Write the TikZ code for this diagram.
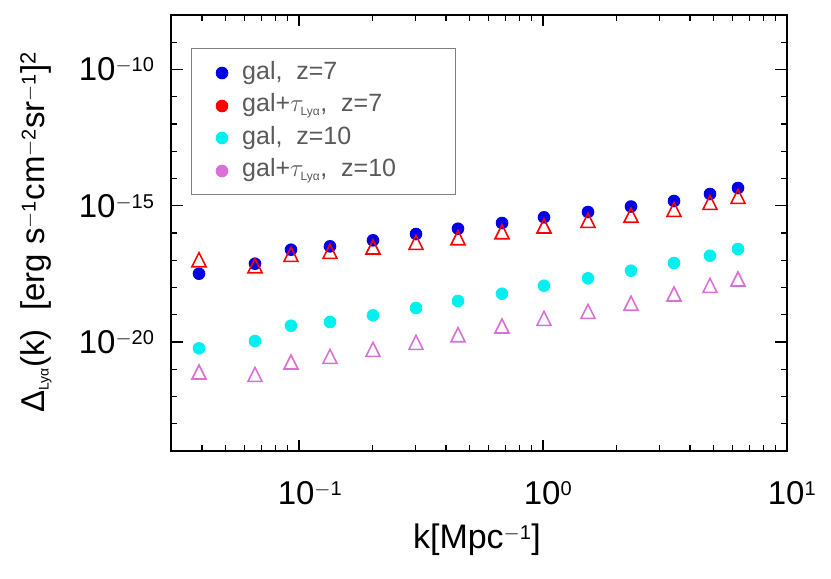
\documentclass[tikz,border=0pt]{standalone}
\usepackage{amsmath}
\usepackage{fontspec}
\setmainfont{Liberation Sans}
\usepackage{tikz}
\definecolor{galblue}{RGB}{0,0,230}
\definecolor{galred}{RGB}{255,0,0}
\definecolor{galcyan}{RGB}{0,240,240}
\definecolor{galviolet}{RGB}{218,112,214}
\definecolor{legendgray}{RGB}{90,90,90}

\tikzset{
    dot/.style={fill=#1, draw=none},
    tri/.style={draw=#1, line width=1.6pt, line join=miter},
    axisline/.style={line width=1.4pt, black},
    tickline/.style={line width=1.2pt, black}
}

\begin{document}
\begin{tikzpicture}[x=1pt, y=-1pt]
    \useasboundingbox (0,0) rectangle (831,579);
    % frame
    \draw[axisline] (171,15) rectangle (787,451);
    % x ticks
    \foreach \e in {-2,-1,0} {
        \foreach \m in {2,...,9} {
            \pgfmathsetmacro{\xx}{543+244*(log10(\m)+\e)}
            \pgfmathparse{\xx>172 ? 1 : 0}
            \ifnum\pgfmathresult=1
                \draw[tickline] (\xx,451) -- ++(0,-6);
                \draw[tickline] (\xx,15) -- ++(0,6);
            \fi
        }
    }
    \foreach \e in {-1,0} {
        \pgfmathsetmacro{\xx}{543+244*\e}
        \draw[tickline] (\xx,451) -- ++(0,-11);
        \draw[tickline] (\xx,15) -- ++(0,11);
    }
    % y ticks
    \foreach \d in {-23,...,-9} {
        \pgfmathsetmacro{\yy}{15+27.25*(-8-\d)}
        \draw[tickline] (171,\yy) -- ++(6,0);
        \draw[tickline] (787,\yy) -- ++(-6,0);
    }
    \foreach \d in {-10,-15,-20} {
        \pgfmathsetmacro{\yy}{15+27.25*(-8-\d)}
        \draw[tickline] (171,\yy) -- ++(12,0);
        \draw[tickline] (787,\yy) -- ++(-12,0);
        \node[anchor=east, font=\fontsize{33}{33}\selectfont] at (158,\yy) {10$^{\text{\fontsize{20}{20}\selectfont $-$\number\numexpr-\d\relax}}$};
    }
    % tick labels on x
    \node[font=\fontsize{33}{33}\selectfont] (xlab1) at (310,493) {10$^{\text{\fontsize{20}{20}\selectfont $-$1}}$};
    \node[font=\fontsize{33}{33}\selectfont] (xlab2) at (548,493) {10$^{\text{\fontsize{20}{20}\selectfont 0}}$};
    \node[font=\fontsize{33}{33}\selectfont] (xlab3) at (792,493) {10$^{\text{\fontsize{20}{20}\selectfont 1}}$};
    % axis titles
    \node[font=\fontsize{34}{34}\selectfont] (xtitle) at (477,540) {k[Mpc$^{\text{\fontsize{20}{20}\selectfont $-$1}}$]};
    \node[rotate=90, font=\fontsize{33}{33}\selectfont] (ytitle) at (36,232)
        {Δ$_{\text{\fontsize{14}{14}\selectfont Lyα}}$(k)\ \ [erg\ s$^{\text{\fontsize{20}{20}\selectfont $-$1}}$cm$^{\text{\fontsize{20}{20}\selectfont $-$2}}$sr$^{\text{\fontsize{20}{20}\selectfont $-$1}}$]$^{\text{\fontsize{22}{22}\selectfont 2}}$};
    % data: gal z=7
    \foreach \px/\py in {199/273.7,255/263.7,291/249.7,330/246.3,373/240.3,416/234,458/228.7,502/223,544/217.3,588/212,631/206.5,674/201,710/194,738/188}
        \fill[dot=galblue] (\px,\py) circle (6.3);
    % data: gal z=10
    \foreach \px/\py in {199/348.3,255/341,291/325.7,330/322,373/315.3,416/308,458/301,502/293.7,544/285.7,588/278.3,631/270.7,674/263,710/255.7,738/249}
        \fill[dot=galcyan] (\px,\py) circle (6.3);
    % data: gal+tau z=7
    \foreach \px/\py in {199/260.7,255/266.7,291/255.3,330/252.3,373/248,416/243.3,458/238.7,502/232.7,544/227,588/221.3,631/216.2,674/210.3,710/203.3,738/197.3}
        \draw[tri=galred] (\px-7,\py+6) -- (\px,\py-8) -- (\px+7,\py+6) -- cycle;
    % data: gal+tau z=10
    \foreach \px/\py in {199/373,255/375.3,291/363,330/357.3,373/350.3,416/343.4,458/335.7,502/327,544/319.3,588/312.3,631/304.2,674/295,710/286.3,738/280}
        \draw[tri=galviolet] (\px-7,\py+6) -- (\px,\py-8) -- (\px+7,\py+6) -- cycle;
    % legend
    \draw[draw=gray, line width=0.8pt, fill=white] (191,48) rectangle (455,194);
    \foreach \c/\ly/\txt in {galblue/73/{gal,\ \ z=7},
                             galred/106/{gal+$\tau_{\text{\fontsize{12}{12}\selectfont Lyα}}$,\ \ z=7},
                             galcyan/138/{gal,\ \ z=10},
                             galviolet/171/{gal+$\tau_{\text{\fontsize{12}{12}\selectfont Lyα}}$,\ \ z=10}} {
        \fill[dot=\c] (222,\ly) circle (6.3);
        \node[anchor=west, text=legendgray, font=\fontsize{25}{25}\selectfont, inner sep=0pt] at (242,\ly) {\txt};
    }
\end{tikzpicture}
\end{document}
